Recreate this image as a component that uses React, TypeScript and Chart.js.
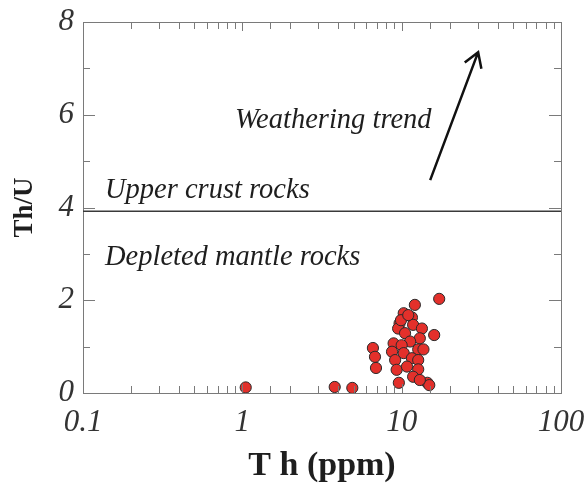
import React, { useEffect, useRef } from "react";
import { Chart, registerables } from "chart.js";

Chart.register(...registerables);

// Th (ppm)
const thValues: number[] = [
  1.05, 3.8, 4.9,
  6.6, 6.8, 6.9,
  9.6, 14.5, 14.9,
  16.0, 17.2, 12.1,
  10.3, 11.6, 9.7, 9.5, 10.5, 11.8, 13.4, 13.0, 11.3, 8.9, 10.0, 8.7,
  12.7, 13.7, 10.3, 11.6, 12.7, 9.1, 9.3, 10.8, 12.7, 11.8, 13.0, 9.9, 11.0,
];
// Th/U
const thuValues: number[] = [
  0.12, 0.13, 0.11,
  0.97, 0.78, 0.54,
  0.22, 0.22, 0.17,
  1.25, 2.03, 1.9,
  1.72, 1.63, 1.5, 1.39, 1.29, 1.47, 1.39, 1.18, 1.11, 1.07, 1.03, 0.89,
  0.94, 0.94, 0.86, 0.75, 0.71, 0.71, 0.5, 0.57, 0.51, 0.35, 0.28, 1.57, 1.68,
];

const xTickLabels = ["0.1", "1", "10", "100"];
const yTickLabels = ["0", "2", "4", "6", "8"];
const upperCrustThU = 3.92;
const arrowStart = { x: 15.1, y: 4.59 };
const arrowEnd = { x: 30.2, y: 7.35 };

const SERIF = '"Liberation Serif", "Times New Roman", serif';

const decorPlugin = {
  id: "decor",
  afterDraw(chart: any) {
    const { ctx, chartArea: a, scales } = chart;
    const xs = scales.x;
    const ys = scales.y;
    ctx.save();
    // frame
    ctx.strokeStyle = "#7a7a7a";
    ctx.lineWidth = 1;
    ctx.strokeRect(Math.round(a.left) + 0.5, Math.round(a.top) + 0.5, Math.round(a.right - a.left), Math.round(a.bottom - a.top));
    // x ticks (inward, bottom and top)
    ctx.beginPath();
    xs.ticks.forEach((t: any) => {
      const lg = Math.log10(t.value);
      const major = Math.abs(lg - Math.round(lg)) < 1e-6;
      const len = major ? 9 : 7;
      const px = Math.round(xs.getPixelForValue(t.value)) + 0.5;
      ctx.moveTo(px, a.bottom);
      ctx.lineTo(px, a.bottom - len);
      ctx.moveTo(px, a.top);
      ctx.lineTo(px, a.top + len);
    });
    ys.ticks.forEach((t: any) => {
      const major = Math.round(t.value) % 2 === 0;
      const len = major ? 12 : 7;
      const py = Math.round(ys.getPixelForValue(t.value)) + 0.5;
      ctx.moveTo(a.left, py);
      ctx.lineTo(a.left + len, py);
      ctx.moveTo(a.right, py);
      ctx.lineTo(a.right - len, py);
    });
    ctx.stroke();
    // upper crust line
    const ly = ys.getPixelForValue(upperCrustThU);
    ctx.strokeStyle = "#3a3a3a";
    ctx.lineWidth = 1.5;
    ctx.beginPath();
    ctx.moveTo(a.left, ly);
    ctx.lineTo(a.right, ly);
    ctx.stroke();
    // texts
    ctx.fillStyle = "#1e1e1e";
    ctx.font = `italic 28.5px ${SERIF}`;
    ctx.textAlign = "left";
    ctx.textBaseline = "alphabetic";
    ctx.fillText("Upper crust rocks", a.left + 22, ly - 13);
    ctx.fillText("Depleted mantle rocks", a.left + 22, ly + 54);
    ctx.fillText("Weathering trend", 235, 128);
    // arrow
    const x0 = xs.getPixelForValue(arrowStart.x);
    const y0 = ys.getPixelForValue(arrowStart.y);
    const x1 = xs.getPixelForValue(arrowEnd.x);
    const y1 = ys.getPixelForValue(arrowEnd.y);
    ctx.strokeStyle = "#111";
    ctx.lineWidth = 2.5;
    ctx.beginPath();
    ctx.moveTo(x0, y0);
    ctx.lineTo(x1, y1);
    const ang = Math.atan2(y1 - y0, x1 - x0);
    const hl = 17;
    const spread = 0.55;
    ctx.moveTo(x1 - hl * Math.cos(ang - spread), y1 - hl * Math.sin(ang - spread));
    ctx.lineTo(x1, y1);
    ctx.lineTo(x1 - hl * Math.cos(ang + spread), y1 - hl * Math.sin(ang + spread));
    ctx.stroke();
    ctx.restore();
  },
};

export default function App() {
  const ref = useRef<HTMLCanvasElement | null>(null);
  useEffect(() => {
    if (!ref.current) return;
    const points = thValues.map((x, i) => ({ x, y: thuValues[i] }));
    const chart = new Chart(ref.current, {
      type: "scatter",
      data: {
        datasets: [
          {
            data: points,
            backgroundColor: "#e3302b",
            borderColor: "#2a2a2a",
            borderWidth: 1,
            pointRadius: 5.6,
          },
        ],
      },
      options: {
        responsive: false,
        animation: false,
        devicePixelRatio: 1,
        layout: { padding: { left: 9, right: 27, top: 22, bottom: 0 } },
        plugins: { legend: { display: false }, tooltip: { enabled: false } },
        scales: {
          x: {
            type: "logarithmic",
            min: 0.1,
            max: 100,
            afterFit: (s: any) => {
              s.height = 90;
              s.paddingLeft = 0;
              s.paddingRight = 0;
            },
            grid: { display: false, drawTicks: false },
            border: { display: false },
            ticks: {
              autoSkip: false,
              maxRotation: 0,
              padding: 11,
              color: "#333",
              font: { family: SERIF, size: 31, style: "italic" },
              callback: (v: any) => {
                const lg = Math.log10(Number(v));
                if (Math.abs(lg - Math.round(lg)) < 1e-6) {
                  return xTickLabels[Math.round(lg) + 1];
                }
                return "";
              },
            },
            title: {
              display: true,
              text: "T h (ppm)",
              color: "#1e1e1e",
              font: { family: SERIF, size: 34, weight: "bold" },
              padding: { top: 0, bottom: -4 },
            },
          },
          y: {
            type: "linear",
            min: 0,
            max: 8,
            afterFit: (s: any) => {
              s.width = 74;
              s.paddingTop = 0;
              s.paddingBottom = 0;
            },
            grid: { display: false, drawTicks: false },
            border: { display: false },
            ticks: {
              stepSize: 1,
              autoSkip: false,
              padding: 9,
              color: "#333",
              font: { family: SERIF, size: 31, style: "italic" },
              callback: (v: any) => {
                const n = Number(v);
                return n % 2 === 0 ? yTickLabels[n / 2] : "";
              },
            },
            title: {
              display: true,
              text: "Th/U",
              color: "#1e1e1e",
              font: { family: SERIF, size: 27, weight: "bold" },
              padding: { top: 0, bottom: 4 },
            },
          },
        },
      },
      plugins: [decorPlugin],
    });
    return () => chart.destroy();
  }, []);
  return (
    <div style={{ position: "fixed", left: 0, top: 0, width: 588, height: 483, background: "#fff" }}>
      <canvas ref={ref} width={588} height={483} />
    </div>
  );
}
